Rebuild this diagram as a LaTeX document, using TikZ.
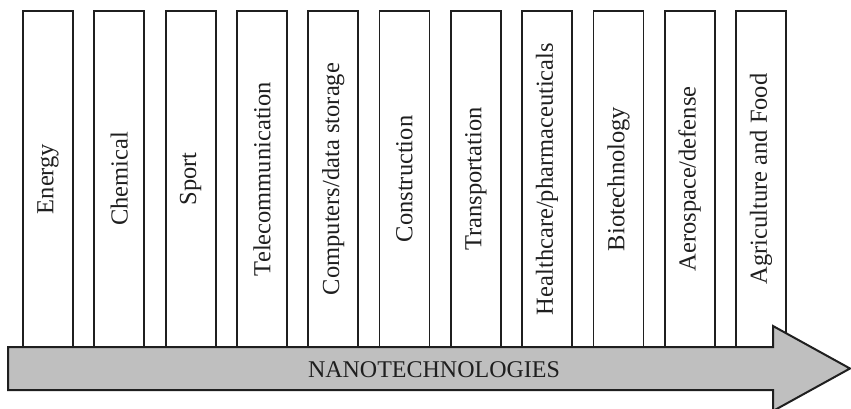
\documentclass[tikz,border=0pt]{standalone}
\usepackage{fontspec}
\setmainfont{Liberation Serif}
\begin{document}
\begin{tikzpicture}[x=1pt,y=-1pt,
  sectorbox/.style={draw=black!88, line width=1.8pt, fill=white, rotate=90,
    minimum width=336pt, minimum height=50pt, inner sep=0pt,
    font=\fontsize{24.5}{27}\selectfont, text=black!88},
  arrowshape/.style={draw=black!88, line width=2pt, fill=black!25, line join=miter},
  arrowlabel/.style={font=\fontsize{24}{27}\selectfont, text=black!88, anchor=base}]
\useasboundingbox (0,0) rectangle (851,409);
\foreach \i/\t in {0/Energy,1/Chemical,2/Sport,3/Telecommunication,4/Computers\slash data storage,5/Construction,6/Transportation,7/Healthcare\slash pharmaceuticals,8/Biotechnology,9/Aerospace\slash defense,10/Agriculture and Food}{
  \node[sectorbox] (b\i) at ({48+71.3*\i},179) {\t};
}
\draw[arrowshape] (8,347) -- (773,347) -- (773,326) -- (850,368.5) -- (773,411) -- (773,390) -- (8,390) -- cycle;
\node[arrowlabel] (nano) at (434,377) {NANOTECHNOLOGIES};
\end{tikzpicture}
\end{document}
